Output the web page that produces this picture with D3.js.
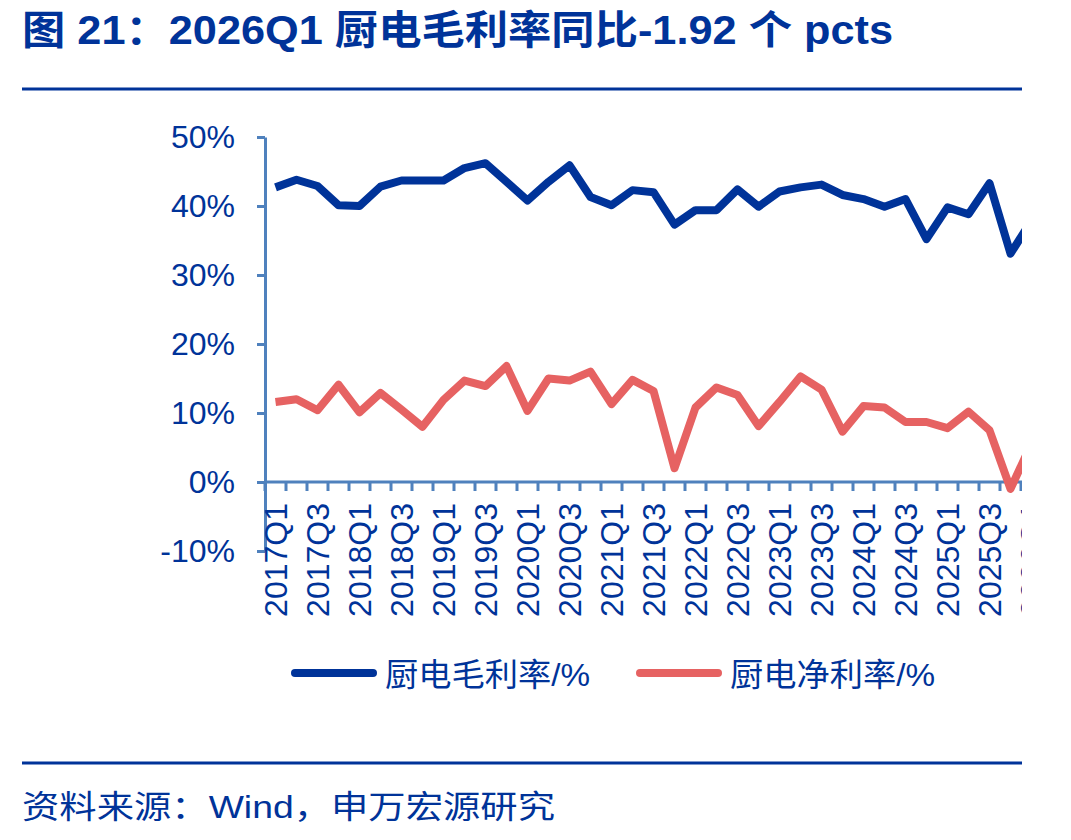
<!DOCTYPE html>
<meta charset="utf-8">
<style>
body { margin: 0; background: #fff; }
text { fill: #003399; font-family: "Liberation Sans", "Noto Sans CJK SC", sans-serif; }
</style>
<svg width="1071" height="840"></svg>
<script src="https://d3js.org/d3.v7.min.js"></script>
<script>
var quarters = ["2017Q1","2017Q2","2017Q3","2017Q4","2018Q1","2018Q2","2018Q3","2018Q4",
  "2019Q1","2019Q2","2019Q3","2019Q4","2020Q1","2020Q2","2020Q3","2020Q4",
  "2021Q1","2021Q2","2021Q3","2021Q4","2022Q1","2022Q2","2022Q3","2022Q4",
  "2023Q1","2023Q2","2023Q3","2023Q4","2024Q1","2024Q2","2024Q3","2024Q4",
  "2025Q1","2025Q2","2025Q3","2025Q4","2026Q1"];

// 厨电毛利率/%
var grossMargin = [42.7,43.8,42.9,40.1,40.0,42.8,43.7,43.7,43.7,45.5,46.2,43.5,40.8,43.5,45.9,41.3,
  40.1,42.3,42.0,37.3,39.4,39.4,42.4,39.9,42.1,42.7,43.1,41.6,41.0,39.9,41.0,35.2,
  39.8,38.8,43.3,33.1,37.9];

// 厨电净利率/%
var netMargin = [11.6,12.0,10.4,14.1,10.1,12.9,10.5,8.0,11.9,14.7,13.9,16.8,10.3,15.0,14.7,16.0,
  11.3,14.8,13.2,2.0,10.8,13.7,12.6,8.1,11.6,15.3,13.4,7.3,11.0,10.8,8.7,8.7,
  7.8,10.2,7.5,-1.0,5.6];

var yTicks = [-10, 0, 10, 20, 30, 40, 50];
var seriesNames = ["厨电毛利率/%", "厨电净利率/%"];
var seriesColors = ["#003399", "#e66262"];

var svg = d3.select("svg");
var axisColor = "#4f81bd";

// title + rules
svg.append("text")
  .attr("x", 22).attr("y", 44)
  .attr("textLength", 871).attr("lengthAdjust", "spacingAndGlyphs")
  .style("font-size", "40px").style("font-weight", "bold")
  .text("图 21：2026Q1 厨电毛利率同比-1.92 个 pcts");
svg.append("line").attr("x1", 22).attr("x2", 1022).attr("y1", 89).attr("y2", 89)
  .attr("stroke", "#003399").attr("stroke-width", 3);
svg.append("line").attr("x1", 22).attr("x2", 1022).attr("y1", 763).attr("y2", 763)
  .attr("stroke", "#003399").attr("stroke-width", 3);
svg.append("text")
  .attr("x", 22).attr("y", 818)
  .attr("textLength", 533).attr("lengthAdjust", "spacingAndGlyphs")
  .style("font-size", "32px")
  .text("资料来源：Wind，申万宏源研究");

svg.append("clipPath").attr("id", "clip")
  .append("rect").attr("x", 0).attr("y", 0).attr("width", 1022).attr("height", 840);

var g = svg.append("g").attr("clip-path", "url(#clip)");

var x = d3.scaleBand().domain(quarters).range([265, 265 + 21 * quarters.length]);
var y = d3.scaleLinear().domain([-10, 50]).range([551, 137]);
var bw = x.bandwidth();

// y axis
var yAxis = g.append("g").attr("transform", "translate(265,0)")
  .call(d3.axisLeft(y).tickValues(yTicks).tickSize(8).tickSizeOuter(0).tickPadding(22)
    .tickFormat(function(d) { return d + "%"; }));
yAxis.select(".domain").attr("stroke", axisColor).attr("stroke-width", 3);
yAxis.selectAll(".tick line").attr("stroke", axisColor).attr("stroke-width", 3);
yAxis.selectAll(".tick text").attr("fill", "#003399")
  .style("font-size", "32px").style("font-family", "'Liberation Sans', sans-serif");

// x axis at 0%
var y0 = y(0);
var xr = x.range();
g.append("line").attr("x1", xr[0]).attr("x2", xr[1]).attr("y1", y0).attr("y2", y0)
  .attr("stroke", axisColor).attr("stroke-width", 3);
g.selectAll(".xtick").data(quarters.concat(["end"])).enter().append("line")
  .attr("class", "xtick")
  .attr("x1", function(d) { return d === "end" ? xr[1] : x(d); })
  .attr("x2", function(d) { return d === "end" ? xr[1] : x(d); })
  .attr("y1", y0).attr("y2", y0 + 9)
  .attr("stroke", axisColor).attr("stroke-width", 3);
g.selectAll(".xlabel").data(quarters.filter(function(d, i) { return i % 2 === 0; }))
  .enter().append("text")
  .attr("class", "xlabel")
  .attr("transform", function(d) { return "translate(" + (x(d) + bw / 2) + "," + (y0 + 21) + ") rotate(-90)"; })
  .attr("dy", "0.35em")
  .attr("text-anchor", "end")
  .style("font-size", "32px")
  .text(function(d) { return d; });

// lines
var line = d3.line()
  .x(function(d, i) { return x(quarters[i]) + bw / 2; })
  .y(function(d) { return y(d); });

[grossMargin, netMargin].forEach(function(s, k) {
  g.append("path").datum(s)
    .attr("d", line)
    .attr("fill", "none")
    .attr("stroke", seriesColors[k])
    .attr("stroke-width", 8)
    .attr("stroke-linejoin", "round");
});

// legend
var legendX = [295, 640];
seriesNames.forEach(function(n, k) {
  svg.append("line")
    .attr("x1", legendX[k]).attr("x2", legendX[k] + 78)
    .attr("y1", 673).attr("y2", 673)
    .attr("stroke", seriesColors[k]).attr("stroke-width", 8).attr("stroke-linecap", "round");
  svg.append("text")
    .attr("x", legendX[k] + 90).attr("y", 686)
    .attr("textLength", 205).attr("lengthAdjust", "spacingAndGlyphs")
    .style("font-size", "32px")
    .text(n);
});
</script>
